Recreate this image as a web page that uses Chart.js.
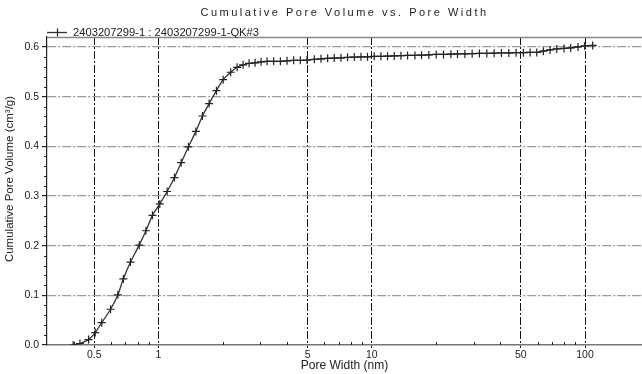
<!DOCTYPE html>
<html><head><meta charset="utf-8">
<script src="https://cdn.jsdelivr.net/npm/chart.js@4/dist/chart.umd.min.js"></script>
<style>html,body{margin:0;padding:0;background:#fff;overflow:hidden}#wrap{width:642px;height:374px}</style>
</head><body><div id="wrap"><canvas id="c" width="642" height="374"></canvas></div>
<script>
const chartTitle = 'Cumulative Pore Volume vs. Pore Width';
const seriesName = '2403207299-1 : 2403207299-1-QK#3';
const xAxisTitle = 'Pore Width (nm)';
const yAxisTitle = 'Cumulative Pore Volume (cm³/g)';

const poreWidth = [0.398,0.428,0.470,0.505,0.542,0.596,0.645,0.684,0.739,0.812,0.873,0.937,
  1.014,1.098,1.188,1.277,1.382,1.497,1.607,1.727,1.869,2.01,
  2.18,2.337,2.493,2.66,2.838,3.027,3.229,3.467,3.728,4.007,
  4.303,4.624,4.97,5.38,5.78,6.21,6.67,7.17,7.70,8.28,
  8.90,9.55,10.27,11.04,11.86,12.75,13.70,14.72,15.94,17.12,
  18.53,20.05,21.70,23.50,25.23,27.33,29.56,31.98,34.64,37.48,
  40.55,43.92,47.52,51.40,55.26,59.38,63.78,68.58,73.70,79.73,
  85.70,92.73,99.7,108.6];
const cumVolume = [0,0.003,0.011,0.025,0.045,0.072,0.101,0.133,0.167,0.201,0.230,0.261,
  0.284,0.309,0.337,0.367,0.399,0.430,0.461,0.486,0.512,0.534,
  0.549,0.559,0.564,0.567,0.568,0.570,0.571,0.571,0.571,0.572,
  0.573,0.573,0.5735,0.575,0.576,0.577,0.5775,0.578,0.579,0.5795,
  0.580,0.580,0.581,0.581,0.5815,0.582,0.5825,0.583,0.583,0.5835,
  0.584,0.585,0.585,0.5855,0.586,0.586,0.5865,0.587,0.587,0.5875,
  0.588,0.588,0.5885,0.5885,0.589,0.589,0.5915,0.594,0.596,0.597,
  0.598,0.600,0.602,0.603];

const xMajorTicks = [0.5,1,5,10,50,100];
const xMinorTicks = [0.4,0.6,0.7,0.8,0.9,2,3,4,6,7,8,9,20,30,40,60,70,80,90];
const yMajorTicks = [0,0.1,0.2,0.3,0.4,0.5,0.6];
const yMinorTicks = [0.02,0.04,0.06,0.08,0.12,0.14,0.16,0.18,0.22,0.24,0.26,0.28,0.32,0.34,0.36,0.38,0.42,0.44,0.46,0.48,0.52,0.54,0.56,0.58];

const FONT = 'Liberation Sans, Arial, sans-serif';

const decor = {
  id: 'decor',
  afterDraw(chart) {
    const ctx = chart.ctx, a = chart.chartArea;
    const xs = chart.scales.x, ys = chart.scales.y;
    ctx.save();
    // top border
    ctx.strokeStyle = '#888'; ctx.lineWidth = 1.5;
    ctx.beginPath(); ctx.moveTo(a.left, a.top + 0.5); ctx.lineTo(a.right, a.top + 0.5); ctx.stroke();
    // minor ticks x (inward)
    ctx.strokeStyle = '#222'; ctx.lineWidth = 1;
    xMinorTicks.forEach(v => {
      const px = Math.round(xs.getPixelForValue(v)) + 0.5;
      ctx.beginPath(); ctx.moveTo(px, a.bottom); ctx.lineTo(px, a.bottom - 3); ctx.stroke();
    });
    // minor ticks y (outward)
    yMinorTicks.forEach(v => {
      const py = Math.round(ys.getPixelForValue(v)) + 0.5;
      ctx.beginPath(); ctx.moveTo(a.left, py); ctx.lineTo(a.left - 3, py); ctx.stroke();
    });
    // y axis title
    ctx.fillStyle = '#222';
    ctx.textBaseline = 'middle';
    ctx.textAlign = 'center';
    ctx.font = '11.5px ' + FONT;
    ctx.save();
    ctx.translate(10, 179);
    ctx.rotate(-Math.PI / 2);
    ctx.fillText(yAxisTitle, 0, 0);
    ctx.restore();
    // title with letter spacing
    ctx.font = '11px ' + FONT;
    ctx.letterSpacing = '2.5px';
    ctx.textAlign = 'left';
    const w = ctx.measureText(chartTitle).width;
    const cx = (a.left + a.right) / 2;
    ctx.fillText(chartTitle, cx - w / 2, 13);
    ctx.letterSpacing = '0px';
    // legend
    ctx.strokeStyle = '#333'; ctx.lineWidth = 1.3;
    ctx.beginPath(); ctx.moveTo(47, 32.5); ctx.lineTo(67, 32.5); ctx.stroke();
    ctx.lineWidth = 1.2; ctx.strokeStyle = '#222';
    ctx.beginPath(); ctx.moveTo(57.5, 28.5); ctx.lineTo(57.5, 36.5); ctx.stroke();
    ctx.font = '11.2px ' + FONT;
    ctx.fillText(seriesName, 73, 32.5);
    ctx.restore();
  }
};

new Chart(document.getElementById('c'), {
  type: 'line',
  data: {
    datasets: [{
      label: seriesName,
      data: poreWidth.map((x, i) => ({x: x, y: cumVolume[i]})),
      borderColor: '#333',
      borderWidth: 1.3,
      pointStyle: 'cross',
      pointRadius: 4,
      pointBorderColor: '#222',
      pointBorderWidth: 1.2,
      tension: 0.2,
      fill: false
    }]
  },
  options: {
    responsive: false,
    animation: false,
    layout: {autoPadding: false, padding: {top: 37, left: 0, right: 0, bottom: 0}},
    plugins: {legend: {display: false}, title: {display: false}, tooltip: {enabled: false}},
    scales: {
      x: {
        type: 'logarithmic', min: 0.302, max: 185,
        afterBuildTicks: s => { s.ticks = xMajorTicks.map(v => ({value: v})); },
        afterFit: s => { s.height = 29; s.paddingRight = 0; s.paddingLeft = 0; },
        ticks: {callback: v => String(v), font: {family: FONT, size: 10.5}, color: '#222', padding: 1, maxRotation: 0, autoSkip: false},
        grid: {color: '#111', lineWidth: 1, drawTicks: true, tickLength: 3, tickColor: '#111'},
        border: {display: true, color: '#777', width: 1.5, dash: [8, 2, 2, 2]},
        title: {display: true, text: xAxisTitle, font: {family: FONT, size: 12}, color: '#222', padding: {top: 0, bottom: 1}}
      },
      y: {
        min: 0, max: 0.62,
        afterBuildTicks: s => { s.ticks = yMajorTicks.map(v => ({value: v})); },
        afterFit: s => { s.width = 47; },
        ticks: {callback: v => v.toFixed(1), font: {family: FONT, size: 10.5}, color: '#222', padding: 3},
        grid: {color: c => (c.tick && c.tick.value === 0) ? 'rgba(0,0,0,0)' : '#9a9a9a', lineWidth: 1.2, drawTicks: true, tickLength: 5, tickColor: '#222'},
        border: {display: true, color: '#222', width: 1.2, dash: [9, 2, 2, 2]},
        title: {display: false}
      }
    }
  },
  plugins: [decor]
});
</script></body></html>
